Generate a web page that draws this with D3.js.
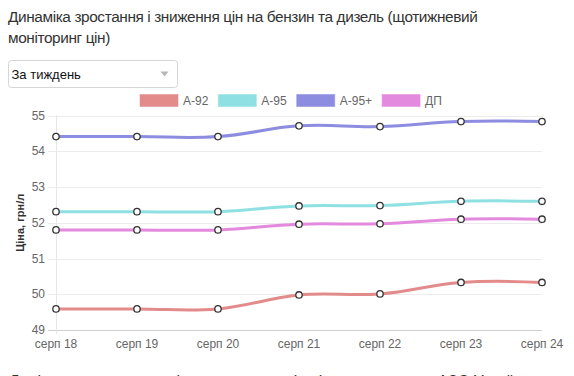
<!DOCTYPE html>
<html>
<head>
<meta charset="utf-8">
<script src="https://cdn.jsdelivr.net/npm/d3@7"></script>
<style>
    body { margin: 0; background: #fff; overflow: hidden; }
    svg { display: block; font-family: "Liberation Sans", Arial, sans-serif; }
</style>
</head>
<body>
<svg id="chart" width="574" height="376"></svg>
<script>
// дані графіка
const labels = ["серп 18", "серп 19", "серп 20", "серп 21", "серп 22", "серп 23", "серп 24"];
const seriesNames = ["А-92", "А-95", "А-95+", "ДП"];
const colors = ["#e38a8a", "#8ee0e3", "#8c8ce0", "#e38ade"];
const a92 = [49.59, 49.59, 49.59, 49.98, 50.01, 50.33, 50.33];
const a95 = [52.31, 52.31, 52.31, 52.47, 52.48, 52.60, 52.60];
const a95plus = [54.41, 54.41, 54.41, 54.71, 54.69, 54.83, 54.83];
const dp = [51.80, 51.80, 51.80, 51.96, 51.97, 52.10, 52.10];
const yTicks = [49, 50, 51, 52, 53, 54, 55];

const titleLines = ["Динаміка зростання і зниження цін на бензин та дизель (щотижневий",
                    "моніторинг цін)"];

function drawChart() {
    const svg = d3.select("svg#chart");

    const attr_area = {
        left: 56,
        right: 542,
        top: 115.5,
        bottom: 330
    };

    // заголовок
    svg.append("text")
        .attr("x", 8)
        .attr("y", 22)
        .style("font-size", "15.4px")
        .style("letter-spacing", "-0.4px")
        .style("fill", "#333")
        .selectAll("tspan")
        .data(titleLines)
        .enter()
        .append("tspan")
        .attr("x", 8)
        .attr("dy", (d, i) => i === 0 ? 0 : 21)
        .text(d => d);

    // випадаючий список
    const sel = svg.append("g").attr("transform", "translate(8.5,60.5)");
    sel.append("rect")
        .attr("width", 169)
        .attr("height", 27)
        .attr("rx", 3)
        .style("fill", "#fff")
        .style("stroke", "#d6d6d6");
    sel.append("text")
        .attr("x", 3)
        .attr("y", 18)
        .style("font-size", "13px")
        .style("fill", "#111")
        .text("За тиждень");
    sel.append("path")
        .attr("d", "M152,11 L160,11 L156,16 Z")
        .style("fill", "#b8b8b8");

    const scX = d3.scalePoint()
        .domain(labels)
        .range([attr_area.left, attr_area.right]);
    const scY = d3.scaleLinear()
        .domain([49, 55])
        .range([attr_area.bottom, attr_area.top]);

    // сітка
    svg.append("g")
        .selectAll("line")
        .data(yTicks)
        .enter()
        .append("line")
        .attr("x1", attr_area.left - 8)
        .attr("x2", attr_area.right)
        .attr("y1", d => Math.round(scY(d)) + 0.5)
        .attr("y2", d => Math.round(scY(d)) + 0.5)
        .style("stroke", d => d === 49 ? "#d0d0d0" : "#ececec")
        .style("stroke-width", 1);

    svg.append("line")
        .attr("x1", attr_area.left + 0.5)
        .attr("x2", attr_area.left + 0.5)
        .attr("y1", attr_area.top)
        .attr("y2", attr_area.bottom + 4)
        .style("stroke", "#e6e6e6");

    // підписи осі Y
    svg.append("g")
        .selectAll("text")
        .data(yTicks)
        .enter()
        .append("text")
        .attr("x", attr_area.left - 11)
        .attr("y", d => scY(d) + 4)
        .attr("text-anchor", "end")
        .style("font-size", "12px")
        .style("fill", "#666")
        .text(d => d);

    // підписи осі X
    svg.append("g")
        .selectAll("text")
        .data(labels)
        .enter()
        .append("text")
        .attr("x", d => scX(d))
        .attr("y", attr_area.bottom + 18)
        .attr("text-anchor", "middle")
        .style("font-size", "12px")
        .style("fill", "#666")
        .text(d => d);

    // назва осі Y
    svg.append("text")
        .attr("transform", `translate(24, ${(attr_area.top + attr_area.bottom) / 2}) rotate(-90)`)
        .attr("text-anchor", "middle")
        .style("font-size", "11px")
        .style("font-weight", "bold")
        .style("fill", "#333")
        .text("Ціна, грн/л");

    // легенда
    const legend = svg.append("g");
    let lx = 140;
    seriesNames.forEach((name, i) => {
        legend.append("rect")
            .attr("x", lx)
            .attr("y", 94.5)
            .attr("width", 38)
            .attr("height", 12)
            .style("fill", colors[i])
            .style("stroke", colors[i])
            .style("stroke-opacity", 0.5);
        const t = legend.append("text")
            .attr("x", lx + 43)
            .attr("y", 105)
            .style("font-size", "12px")
            .style("fill", "#666")
            .text(name);
        lx += 43 + t.node().getComputedTextLength() + 10;
    });

    // лінії
    const allSeries = [a92, a95, a95plus, dp];
    const line = d3.line()
        .x((d, i) => scX(labels[i]))
        .y(d => scY(d))
        .curve(d3.curveCardinal.tension(-0.2));

    allSeries.forEach((values, i) => {
        svg.append("path")
            .datum(values)
            .attr("d", line)
            .style("fill", "none")
            .style("stroke", colors[i])
            .style("stroke-width", 3);
    });

    allSeries.forEach(values => {
        svg.append("g")
            .selectAll("circle")
            .data(values)
            .enter()
            .append("circle")
            .attr("cx", (d, i) => scX(labels[i]))
            .attr("cy", d => scY(d))
            .attr("r", 3.2)
            .style("fill", "#fff")
            .style("stroke", "#333")
            .style("stroke-width", 1.3);
    });

    // наступний абзац (у вікні видно лише верх літер)
    svg.append("text")
        .attr("x", 9)
        .attr("y", 387)
        .style("font-size", "16px")
        .style("fill", "#333")
        .text("Дані щотижневого моніторингу середніх цін на пальне на АЗС України");
}

drawChart();
</script>
</body>
</html>
